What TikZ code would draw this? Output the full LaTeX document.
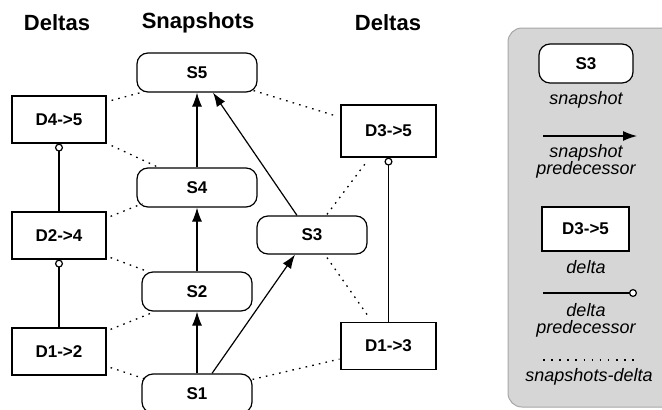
\documentclass[tikz,border=0pt]{standalone}
\usepackage{fontspec}
\setmainfont{Liberation Sans}
\usetikzlibrary{arrows.meta}

\tikzset{
  snapbox/.style={draw, line width=1.2pt, rounded corners=11pt, inner sep=0pt,
    minimum width=110pt, minimum height=39pt, fill=white,
    font=\bfseries\fontsize{17}{19}\selectfont},
  deltabox/.style={draw, line width=1.2pt, inner sep=0pt,
    minimum width=94pt, minimum height=47pt, fill=white,
    font=\bfseries\fontsize{17}{19}\selectfont},
  header/.style={font=\bfseries\fontsize{22}{24}\selectfont, inner sep=0pt},
  legtext/.style={font=\itshape\fontsize{18}{17}\selectfont, inner sep=0pt, align=center},
  pred/.style={line width=1.2pt, -{Latex[length=14pt,width=10pt]}},
  dpred/.style={line width=1.2pt, -{Circle[open, length=8pt, width=8pt, fill=white, line width=1.2pt]}},
  link/.style={line width=1.3pt, dash pattern=on 1.6pt off 5.2pt},
}

\begin{document}
\begin{tikzpicture}[x=1pt, y=-1pt]
\useasboundingbox (0,0) rectangle (662,410);

% column headings
\node[header] (hd1) at (57,23) {Deltas};
\node[header] (hs)  at (198,23) {Snapshots};
\node[header] (hd2) at (388,23) {Deltas};

% snapshots
\node[snapbox, minimum width=120pt] (S5) at (197,72.5) {S5};
\node[snapbox, minimum width=120pt] (S4) at (197,187.5) {S4};
\node[snapbox] (S2) at (197,291.5) {S2};
\node[snapbox] (S1) at (197,393.5) {S1};
\node[snapbox, minimum height=38pt] (S3) at (312,235) {S3};

% deltas
\node[deltabox] (D45) at (59,119.5) {D4->5};
\node[deltabox] (D24) at (59,235.5) {D2->4};
\node[deltabox] (D12) at (59,351.5) {D1->2};
\node[deltabox, minimum width=95pt, minimum height=52pt] (D35) at (388.5,131) {D3->5};
\node[deltabox, minimum width=95pt, minimum height=47pt] (D13) at (388.5,346) {D1->3};

% snapshot predecessors
\draw[pred] (S4.north) -- (S5.south);
\draw[pred] (S2.north) -- (S4.south);
\draw[pred] (S1.north) -- (S2.south);
\draw[pred] ([xshift=-15pt]S3.north) -- ([xshift=16pt]S5.south);
\draw[pred] ([xshift=15pt]S1.north) -- ([xshift=-17pt]S3.south);

% delta predecessors
\draw[dpred] (D12.north) -- (D24.south);
\draw[dpred] (D24.north) -- (D45.south);
\draw[dpred] (D13.north) -- (D35.south);

% snapshot-delta links
\draw[link] ([xshift=5pt,yshift=-5pt]D45.north east) -- ([xshift=8pt,yshift=1pt]S5.south west);
\draw[link] ([xshift=5pt,yshift=-2pt]D45.south east) -- ([xshift=20pt,yshift=1pt]S4.north west);
\draw[link] ([xshift=4pt,yshift=-5pt]D24.north east) -- ([xshift=6pt,yshift=4pt]S4.south west);
\draw[link] ([xshift=4pt,yshift=2pt]D24.south east) -- ([xshift=6pt]S2.north west);
\draw[link] ([xshift=4pt,yshift=-2pt]D12.north east) -- ([xshift=11pt,yshift=-1pt]S2.south west);
\draw[link] ([xshift=4pt,yshift=8pt]D12.south east) -- ([xshift=5pt,yshift=-6pt]S1.north west);
\draw[link] ([yshift=-6pt]S1.north east) -- ([xshift=-1pt,yshift=11pt]D13.south west);
\draw[link] ([xshift=15pt,yshift=-3pt]S3.south) -- ([xshift=-20.5pt,yshift=6pt]D13.north);
\draw[link] ([xshift=15pt,yshift=1pt]S3.north) -- ([xshift=-22.5pt,yshift=-5pt]D35.south);
\draw[link] ([xshift=-4pt,yshift=2pt]S5.south east) -- ([xshift=-3pt,yshift=-12pt]D35.north west);

% legend
\path[draw=black!35, fill=black!16, line width=1pt, rounded corners=14pt]
  (508,28) rectangle (680,407);
\node[snapbox, minimum width=94pt] (LS3) at (586,63.5) {S3};
\node[legtext] (Lsnap) at (586,100) {snapshot};
\coordinate (La) at (543,136);
\coordinate (Lb) at (637,136);
\draw[pred] (La) -- (Lb);
\node[legtext] (Lpred) at (586,161) {snapshot\\predecessor};
\node[deltabox, minimum width=87pt, minimum height=44pt] (LD35) at (585.5,229) {D3->5};
\node[legtext] (Ldelta) at (586,267) {delta};
\coordinate (Lc) at (543,293);
\coordinate (Ld) at (637,293);
\draw[dpred] (Lc) -- (Ld);
\node[legtext] (Ldpred) at (586,320) {delta\\predecessor};
\coordinate (Le) at (543,360);
\coordinate (Lf) at (637,360);
\draw[link, dash pattern=on 1.6pt off 6.5pt] (Le) -- (Lf);
\node[legtext] (Llink) at (589,377) {snapshots-delta};
\end{tikzpicture}
\end{document}
